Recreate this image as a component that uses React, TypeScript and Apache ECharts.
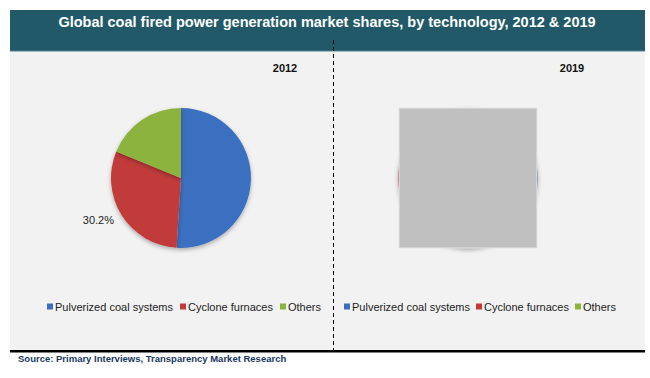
import React, { useEffect, useRef } from "react";
import * as echarts from "echarts";

const categories = ["Pulverized coal systems", "Cyclone furnaces", "Others"];
const values2012 = [51.0, 30.2, 18.8];
const values2019 = [52.0, 29.0, 19.0];
const years = ["2012", "2019"];
const colors = ["#3a6fc0", "#c23a3a", "#8cb33c"];
const labelledIndex2012 = 1;

export default function App() {
  const ref = useRef<HTMLDivElement>(null);
  useEffect(() => {
    document.body.style.margin = "0";
    const chart = echarts.init(ref.current!, null, { renderer: "svg" });
    const font = "Arial, 'Liberation Sans', sans-serif";
    const makeData = (vals: number[], labelIdx: number) =>
      vals.map((v, i) => ({
        name: categories[i],
        value: v,
        label: { show: i === labelIdx },
        labelLine: { show: false },
      }));
    chart.setOption({
      animation: false,
      color: colors,
      title: [
        { text: years[0], left: 280, top: 57, textAlign: "center", textStyle: { fontSize: 11, fontWeight: "bold", color: "#111", fontFamily: font } },
        { text: years[1], left: 567, top: 57, textAlign: "center", textStyle: { fontSize: 11, fontWeight: "bold", color: "#111", fontFamily: font } },
      ],
      legend: [
        { left: 42, top: 296, icon: "rect", itemWidth: 6, itemHeight: 6, itemGap: 7, data: categories, textStyle: { fontSize: 11, color: "#222", fontFamily: font, padding: [0, 0, 0, -3] } },
        { left: 339, top: 296, icon: "rect", itemWidth: 6, itemHeight: 6, itemGap: 6, data: categories, textStyle: { fontSize: 11, color: "#222", fontFamily: font, padding: [0, 0, 0, -3] } },
      ],
      graphic: [
        { type: "rect", z: -10, shape: { x: 10, y: 50, width: 635, height: 300 }, style: { fill: "#f2f2f2" } },
        { type: "rect", z: -5, shape: { x: 10, y: 10, width: 635, height: 41 }, style: { fill: "#215968" } },
        { type: "line", z: -4, shape: { x1: 10, y1: 51, x2: 645, y2: 51 }, style: { stroke: "#4f8191", lineWidth: 1 } },
        { type: "text", z: 10, style: { text: "Global coal fired power generation market shares, by technology, 2012 & 2019", x: 327, y: 14, align: "center", fill: "#ffffff", font: "bold 14.5px Arial, 'Liberation Sans', sans-serif" } },
        { type: "line", z: 10, shape: { x1: 333.5, y1: 40, x2: 333.5, y2: 350 }, style: { stroke: "#000", lineWidth: 1, lineDash: [4, 3] } },
        { type: "rect", z: 5, shape: { x: 10, y: 350, width: 635, height: 2.5 }, style: { fill: "#000" } },
        { type: "text", z: 10, style: { text: "Source: Primary Interviews, Transparency Market Research", x: 18, y: 353, fill: "#17375e", font: "bold 9.5px Arial, 'Liberation Sans', sans-serif" } },
        { type: "rect", z: 100, shape: { x: 399, y: 108, width: 138, height: 140 }, style: { fill: "#c0c0c0", stroke: "#e4e4e4", lineWidth: 1 } },
      ],
      series: [
        {
          type: "pie",
          center: [181, 178],
          radius: 70,
          startAngle: 90,
          clockwise: true,
          itemStyle: { shadowBlur: 4, shadowColor: "rgba(0,0,0,0.3)", shadowOffsetY: 2 },
          label: { show: true, position: "outside", formatter: (p: any) => p.value + "%", fontSize: 11, color: "#222", fontFamily: font, distanceToLabelLine: 0 },
          labelLine: { show: false, length: 9, length2: 0 },
          emphasis: { disabled: true },
          data: makeData(values2012, labelledIndex2012),
        },
        {
          type: "pie",
          center: [468, 178],
          radius: 70,
          startAngle: 90,
          clockwise: true,
          itemStyle: { shadowBlur: 4, shadowColor: "rgba(0,0,0,0.3)", shadowOffsetY: 2 },
          label: { show: false },
          labelLine: { show: false },
          emphasis: { disabled: true },
          data: makeData(values2019, -1),
        },
      ],
    });
    return () => chart.dispose();
  }, []);
  return <div ref={ref} style={{ width: 650, height: 378 }} />;
}
